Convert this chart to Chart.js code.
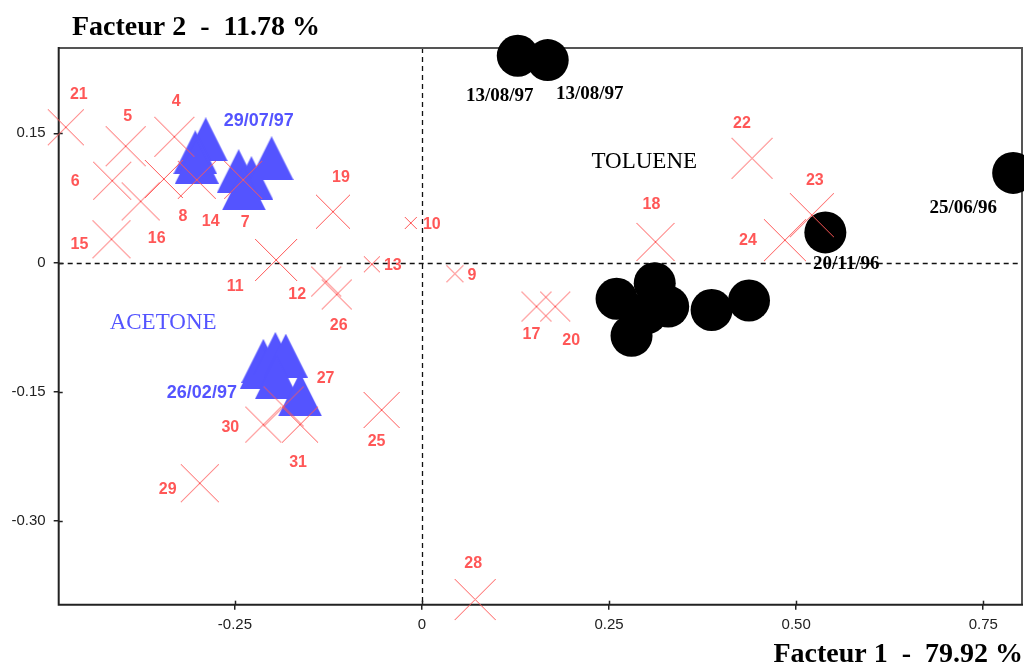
<!DOCTYPE html>
<html>
<head>
<meta charset="utf-8">
<script src="https://cdn.jsdelivr.net/npm/chart.js@4.4.1/dist/chart.umd.min.js"></script>
<style>
  html, body { margin: 0; padding: 0; background: #fff; }
</style>
</head>
<body>
<canvas id="acp" width="1024" height="664"></canvas>
<script>
// numbered samples (red crosses)
const crossLabels = ['4', '5', '6', '7', '8', '9', '10', '11', '12', '13', '14', '15', '16', '17', '18',
                     '19', '20', '21', '22', '23', '24', '25', '26', '27', '28', '29', '30', '31'];
const crossX = [-0.331, -0.396, -0.414, -0.239, -0.345, 0.044, -0.015, -0.195, -0.128, -0.067, -0.301, -0.415, -0.376, 0.153, 0.312,
                -0.119, 0.178, -0.476, 0.441, 0.521, 0.485, -0.054, -0.114, -0.185, 0.071, -0.297, -0.212, -0.163];
const crossY = [0.146, 0.135, 0.095, 0.096, 0.097, -0.013, 0.046, 0.003, -0.022, -0.002, 0.096, 0.027, 0.071, -0.051, 0.024,
                0.059, -0.051, 0.157, 0.121, 0.055, 0.026, -0.171, -0.037, -0.167, -0.391, -0.256, -0.188, -0.188];

// acetone group (blue triangles)
const acetX = [-0.289, -0.303, -0.301, -0.245, -0.228, -0.201, -0.238, -0.212, -0.214, -0.196, -0.182, -0.194, -0.163];
const acetY = [0.143, 0.128, 0.117, 0.106, 0.098, 0.121, 0.086, -0.114, -0.121, -0.106, -0.108, -0.133, -0.153];
const acetDates = ['29/07/97', '', '', '', '', '', '', '', '26/02/97', '', '', '', ''];

// toluene group (black discs)
const tolX = [0.128, 0.168, 0.539, 0.790, 0.260, 0.311, 0.280, 0.300, 0.329, 0.387, 0.437];
const tolY = [0.240, 0.235, 0.035, 0.104, -0.042, -0.024, -0.085, -0.059, -0.051, -0.055, -0.044];
const tolDates = ['13/08/97', '13/08/97', '20/11/96', '25/06/96', '', '', '', '', '', '', ''];

// axes
const xTicks = [-0.25, 0, 0.25, 0.5, 0.75];
const xTickLabels = ['-0.25', '0', '0.25', '0.50', '0.75'];
const yTicks = [0.15, 0, -0.15, -0.30];
const yTickLabels = ['0.15', '0', '-0.15', '-0.30'];
const xTitle = 'Facteur 1  -  79.92 %';
const yTitle = 'Facteur 2  -  11.78 %';
const groupNames = ['TOLUENE', 'ACETONE'];
const groupX = [0.297, -0.346];
const groupY = [0.117, -0.070];

// drawing styles (sizes of crosses, label placement in px)
const crossHalf = [20, 20, 19, 19, 19, 8.5, 6, 21, 15, 8, 19, 19, 19, 15, 19, 17, 15, 18, 20.5, 22, 21, 18, 15, 20, 20.5, 19, 18, 18];
const crossLabelOff = [[2, -35], [2, -30], [-37, 1], [2, 43], [19, 38], [17, 2], [21, 2], [-41, 27], [-29, 13], [21, 1],
                       [14, 42], [-32, 5], [16, 37], [-5, 28], [-4, -37], [8, -34], [16, 34], [13, -33], [-10, -35], [3, -35],
                       [-37, 0], [-5, 32], [2, 31], [42, -28], [-2, -36], [-32, 6], [-33, 3], [-2, 38]];
const acetLabelOff = [[53, -18], [0, 0], [0, 0], [0, 0], [0, 0], [0, 0], [0, 0], [0, 0], [-60, 26], [0, 0], [0, 0], [0, 0], [0, 0]];
const tolLabelOff = [[-18, 40], [42, 34], [21, 32], [-50, 35], [0, 0], [0, 0], [0, 0], [0, 0], [0, 0], [0, 0], [0, 0]];

const RED = '#ff5757';
const BLUE = '#5454ff';

function makeTriangle(w, h, color) {
    const c = document.createElement('canvas');
    c.width = w;
    c.height = h;
    const g = c.getContext('2d');
    g.fillStyle = color;
    g.beginPath();
    g.moveTo(w / 2, 0);
    g.lineTo(w, h);
    g.lineTo(0, h);
    g.closePath();
    g.fill();
    return c;
}

function makeCross(half, color) {
    const s = Math.round(half * 2) + 2;
    const c = document.createElement('canvas');
    c.width = s;
    c.height = s;
    const g = c.getContext('2d');
    g.strokeStyle = color;
    g.lineWidth = 1;
    g.beginPath();
    g.moveTo(1, 1);
    g.lineTo(s - 1, s - 1);
    g.moveTo(1, s - 1);
    g.lineTo(s - 1, 1);
    g.stroke();
    return c;
}

const triangle = makeTriangle(44, 44, BLUE);
const crossStyles = crossHalf.map(h => makeCross(h, RED));

const toPoints = (xs, ys) => xs.map((x, i) => ({ x: x, y: ys[i] }));

// labels next to points, frame, zero lines, titles
const decor = {
    id: 'decor',
    beforeDatasetsDraw(chart) {
        const { ctx, chartArea: a, scales: { x, y } } = chart;
        ctx.save();
        ctx.strokeStyle = '#111';
        ctx.lineWidth = 1.3;
        ctx.setLineDash([5, 4]);
        const x0 = Math.round(x.getPixelForValue(0)) + 0.5;
        const y0 = Math.round(y.getPixelForValue(0)) + 0.5;
        ctx.beginPath();
        ctx.moveTo(x0, a.top);
        ctx.lineTo(x0, a.bottom);
        ctx.moveTo(a.left, y0);
        ctx.lineTo(a.right, y0);
        ctx.stroke();
        ctx.setLineDash([]);

        ctx.lineWidth = 2;
        ctx.strokeStyle = '#555';
        ctx.beginPath();
        ctx.moveTo(a.left, a.top);
        ctx.lineTo(a.right, a.top);
        ctx.lineTo(a.right, a.bottom);
        ctx.stroke();
        ctx.strokeStyle = '#222';
        ctx.beginPath();
        ctx.moveTo(a.left, a.top - 1);
        ctx.lineTo(a.left, a.bottom);
        ctx.lineTo(a.right + 1, a.bottom);
        ctx.stroke();

        // inner half of the tick marks
        ctx.lineWidth = 1.5;
        x.ticks.forEach(t => {
            const px = Math.round(x.getPixelForValue(t.value)) + 0.5;
            ctx.beginPath();
            ctx.moveTo(px, a.bottom);
            ctx.lineTo(px, a.bottom - 4);
            ctx.stroke();
        });
        y.ticks.forEach(t => {
            const py = Math.round(y.getPixelForValue(t.value)) + 0.5;
            ctx.beginPath();
            ctx.moveTo(a.left, py);
            ctx.lineTo(a.left + 4, py);
            ctx.stroke();
        });
        ctx.restore();
    },
    afterDatasetsDraw(chart) {
        const ctx = chart.ctx;
        ctx.save();
        ctx.textAlign = 'center';
        ctx.textBaseline = 'middle';
        chart.data.datasets.forEach((ds, di) => {
            const meta = chart.getDatasetMeta(di);
            ctx.font = ds.labelFont;
            ctx.fillStyle = ds.labelColor;
            meta.data.forEach((pt, i) => {
                const txt = ds.pointLabels[i];
                if (!txt) return;
                const off = ds.labelOffsets[i];
                ctx.fillText(txt, pt.x + off[0], pt.y + off[1]);
            });
        });

        const { x, y } = chart.scales;
        ctx.font = '23px "Liberation Serif"';
        ctx.fillStyle = '#000';
        ctx.fillText(groupNames[0], x.getPixelForValue(groupX[0]), y.getPixelForValue(groupY[0]));
        ctx.fillStyle = BLUE;
        ctx.fillText(groupNames[1], x.getPixelForValue(groupX[1]), y.getPixelForValue(groupY[1]));
        ctx.restore();
    },
    afterDraw(chart) {
        const ctx = chart.ctx;
        ctx.save();
        ctx.fillStyle = '#000';
        ctx.font = 'bold 28px "Liberation Serif"';
        ctx.textBaseline = 'alphabetic';
        ctx.textAlign = 'left';
        ctx.fillText(yTitle, 72, 35);
        ctx.textAlign = 'right';
        ctx.fillText(xTitle, 1023, 662);
        ctx.restore();
    }
};

const ctx = document.getElementById('acp').getContext('2d');
window.acpChart = new Chart(ctx, {
    type: 'scatter',
    data: {
        datasets: [
            {
                label: 'echantillons',
                data: toPoints(crossX, crossY),
                pointStyle: crossStyles,
                pointRadius: 20,
                borderColor: RED,
                backgroundColor: RED,
                clip: false,
                pointLabels: crossLabels,
                labelOffsets: crossLabelOff,
                labelFont: 'bold 16px "Liberation Sans"',
                labelColor: RED
            },
            {
                label: 'acetone',
                data: toPoints(acetX, acetY),
                pointStyle: triangle,
                pointRadius: 22,
                backgroundColor: BLUE,
                borderColor: BLUE,
                clip: false,
                pointLabels: acetDates,
                labelOffsets: acetLabelOff,
                labelFont: 'bold 18px "Liberation Sans"',
                labelColor: BLUE
            },
            {
                label: 'toluene',
                data: toPoints(tolX, tolY),
                pointStyle: 'circle',
                pointRadius: 21,
                backgroundColor: '#000',
                borderColor: '#000',
                pointBorderWidth: 0,
                clip: false,
                pointLabels: tolDates,
                labelOffsets: tolLabelOff,
                labelFont: 'bold 19px "Liberation Serif"',
                labelColor: '#000'
            }
        ]
    },
    options: {
        responsive: false,
        animation: false,
        events: [],
        layout: { autoPadding: false, padding: { left: 0, top: 48, right: 2, bottom: 0 } },
        plugins: {
            legend: { display: false },
            tooltip: { enabled: false },
            colors: { enabled: false }
        },
        scales: {
            x: {
                type: 'linear',
                min: -0.4855,
                max: 0.8018,
                afterBuildTicks: s => { s.ticks = xTicks.map(v => ({ value: v })); },
                afterFit: s => { s.height = 59.3; s.paddingLeft = 0; s.paddingRight = 0; },
                border: { display: false },
                grid: { drawOnChartArea: false, tickLength: 5, color: '#222', lineWidth: 1.5 },
                ticks: {
                    padding: 6,
                    color: '#222',
                    font: { family: '"Liberation Sans"', size: 15 },
                    maxRotation: 0,
                    callback: (v, i) => xTickLabels[i]
                }
            },
            y: {
                type: 'linear',
                min: -0.397,
                max: 0.249,
                afterBuildTicks: s => { s.ticks = yTicks.map(v => ({ value: v })); },
                afterFit: s => { s.width = 58.7; s.paddingTop = 0; s.paddingBottom = 0; },
                border: { display: false },
                grid: { drawOnChartArea: false, tickLength: 5, color: '#222', lineWidth: 1.5 },
                ticks: {
                    padding: 8,
                    color: '#222',
                    font: { family: '"Liberation Sans"', size: 15 },
                    callback: (v, i) => yTickLabels[i]
                }
            }
        }
    },
    plugins: [decor]
});
</script>
</body>
</html>
